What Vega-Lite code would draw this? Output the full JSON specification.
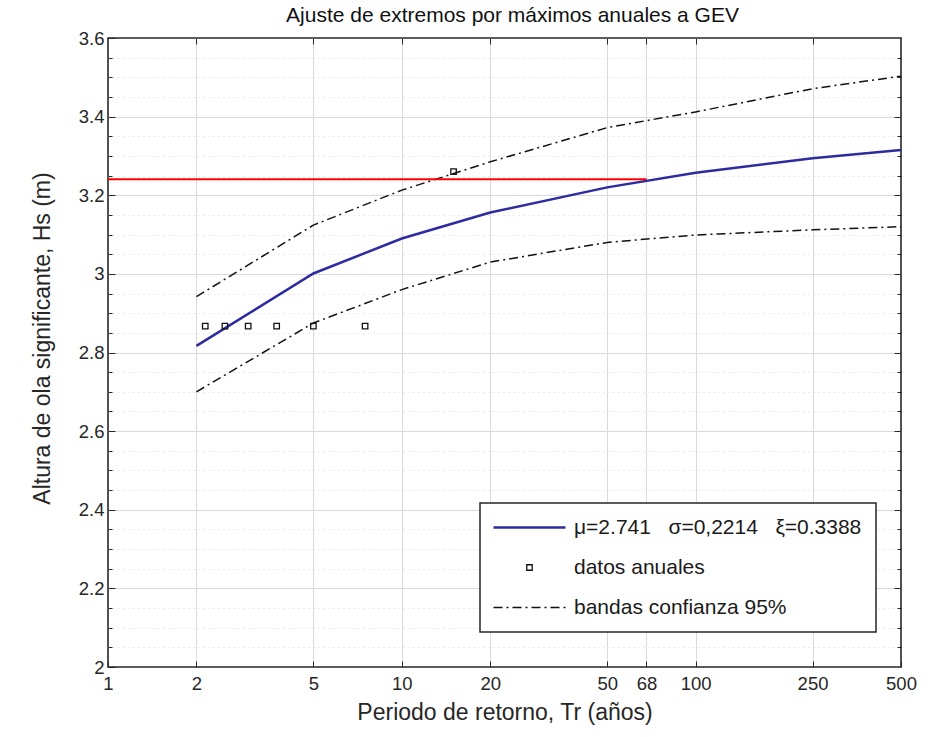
{
  "$schema": "https://vega.github.io/schema/vega-lite/v6.json",
  "width": 793,
  "height": 629,
  "autosize": {"type": "none"},
  "padding": {"left": 108, "top": 38, "right": 27, "bottom": 70},
  "background": "white",
  "title": {"text": "Ajuste de extremos por máximos anuales a GEV", "fontSize": 21, "font": "Liberation Sans", "fontWeight": "normal", "color": "#111111", "offset": 3, "dx": 8, "anchor": "middle"},
  "config": {
    "view": {"stroke": "#262626", "strokeWidth": 1.6},
    "axis": {"labelFont": "Liberation Sans", "titleFont": "Liberation Sans", "labelColor": "#262626", "titleColor": "#262626", "tickColor": "#262626", "domain": false, "labelFlush": false, "labelOverlap": false, "titleFontWeight": "normal", "tickWidth": 1}
  },
  "datasets": {
    "lines": [
      {"T": 2, "Hs": 2.942, "band": "sup", "serie": "bandas confianza 95%"},
      {"T": 5, "Hs": 3.124, "band": "sup", "serie": "bandas confianza 95%"},
      {"T": 10, "Hs": 3.213, "band": "sup", "serie": "bandas confianza 95%"},
      {"T": 20, "Hs": 3.285, "band": "sup", "serie": "bandas confianza 95%"},
      {"T": 50, "Hs": 3.372, "band": "sup", "serie": "bandas confianza 95%"},
      {"T": 100, "Hs": 3.412, "band": "sup", "serie": "bandas confianza 95%"},
      {"T": 250, "Hs": 3.471, "band": "sup", "serie": "bandas confianza 95%"},
      {"T": 500, "Hs": 3.503, "band": "sup", "serie": "bandas confianza 95%"},
      {"T": 2, "Hs": 2.700, "band": "inf", "serie": "bandas confianza 95%"},
      {"T": 5, "Hs": 2.875, "band": "inf", "serie": "bandas confianza 95%"},
      {"T": 10, "Hs": 2.960, "band": "inf", "serie": "bandas confianza 95%"},
      {"T": 20, "Hs": 3.030, "band": "inf", "serie": "bandas confianza 95%"},
      {"T": 50, "Hs": 3.080, "band": "inf", "serie": "bandas confianza 95%"},
      {"T": 100, "Hs": 3.099, "band": "inf", "serie": "bandas confianza 95%"},
      {"T": 250, "Hs": 3.112, "band": "inf", "serie": "bandas confianza 95%"},
      {"T": 500, "Hs": 3.120, "band": "inf", "serie": "bandas confianza 95%"}
    ],
    "gev": [
      {"T": 2, "Hs": 2.817, "serie": "μ=2.741\u00a0\u00a0 σ=0,2214\u00a0\u00a0 ξ=0.3388"},
      {"T": 5, "Hs": 3.001, "serie": "μ=2.741\u00a0\u00a0 σ=0,2214\u00a0\u00a0 ξ=0.3388"},
      {"T": 10, "Hs": 3.090, "serie": "μ=2.741\u00a0\u00a0 σ=0,2214\u00a0\u00a0 ξ=0.3388"},
      {"T": 20, "Hs": 3.156, "serie": "μ=2.741\u00a0\u00a0 σ=0,2214\u00a0\u00a0 ξ=0.3388"},
      {"T": 50, "Hs": 3.220, "serie": "μ=2.741\u00a0\u00a0 σ=0,2214\u00a0\u00a0 ξ=0.3388"},
      {"T": 100, "Hs": 3.257, "serie": "μ=2.741\u00a0\u00a0 σ=0,2214\u00a0\u00a0 ξ=0.3388"},
      {"T": 250, "Hs": 3.294, "serie": "μ=2.741\u00a0\u00a0 σ=0,2214\u00a0\u00a0 ξ=0.3388"},
      {"T": 500, "Hs": 3.315, "serie": "μ=2.741\u00a0\u00a0 σ=0,2214\u00a0\u00a0 ξ=0.3388"}
    ],
    "pts": [
      {"T": 2.143, "Hs": 2.867, "serie": "datos anuales"},
      {"T": 2.5, "Hs": 2.867, "serie": "datos anuales"},
      {"T": 3, "Hs": 2.867, "serie": "datos anuales"},
      {"T": 3.75, "Hs": 2.867, "serie": "datos anuales"},
      {"T": 5, "Hs": 2.867, "serie": "datos anuales"},
      {"T": 7.5, "Hs": 2.867, "serie": "datos anuales"},
      {"T": 15, "Hs": 3.260, "serie": "datos anuales"}
    ],
    "ret": [
      {"T": 1, "Hs": 3.241},
      {"T": 68, "Hs": 3.241}
    ]
  },
  "layer": [
    {
      "data": {"name": "lines"},
      "mark": {"type": "line", "strokeDash": [9, 4, 2, 4], "strokeWidth": 1.5},
      "encoding": {
        "x": {"field": "T", "type": "quantitative", "scale": {"type": "log", "domain": [1, 500], "nice": false},
              "axis": {"orient": "bottom", "values": [1, 2, 5, 10, 20, 50, 68, 100, 250, 500], "format": "d", "grid": false, "tickSize": -6, "labelPadding": 13, "labelFontSize": 18.5, "title": "Periodo de retorno, Tr (años)", "titleFontSize": 23, "titleY": 45, "titleBaseline": "middle"}},
        "y": {"field": "Hs", "type": "quantitative", "scale": {"domain": [2, 3.6], "nice": false, "zero": false},
              "axis": {"orient": "left", "values": [2, 2.2, 2.4, 2.6, 2.8, 3, 3.2, 3.4, 3.6], "format": "~g", "grid": false, "tickSize": -7, "labelPadding": 11, "labelFontSize": 18.5, "title": "Altura de ola significante, Hs (m)", "titleFontSize": 23, "titleX": -66, "titleY": 300, "titleBaseline": "middle", "titleAlign": "center"}},
        "detail": {"field": "band"},
        "color": {"field": "serie", "type": "nominal",
                  "scale": {"domain": ["μ=2.741\u00a0\u00a0 σ=0,2214\u00a0\u00a0 ξ=0.3388", "datos anuales", "bandas confianza 95%"], "range": ["#2c2ca0", "#111111", "#111111"]},
                  "legend": {"orient": "none", "legendX": 372, "legendY": 465, "title": null, "fillColor": "white", "strokeColor": "#262626", "padding": 14, "labelFontSize": 21, "labelFont": "Liberation Sans", "labelColor": "#1a1a1a", "symbolType": "stroke", "symbolSize": 5184, "symbolStrokeWidth": 2.5, "rowPadding": 18, "symbolOffset": 25, "labelOffset": 34, "labelLimit": 500,
                    "encode": {
                      "symbols": {"update": {
                        "shape": {"signal": "datum.value === 'datos anuales' ? 'square' : 'stroke'"},
                        "size": {"signal": "datum.value === 'datos anuales' ? 30 : 5184"},
                        "strokeDash": {"signal": "datum.value === 'bandas confianza 95%' ? [9,4,2,4] : [1,0]"},
                        "strokeWidth": {"signal": "datum.value === 'datos anuales' ? 1.3 : (datum.value === 'bandas confianza 95%' ? 1.5 : 2.5)"},
                        "fill": {"value": "transparent"}
                      }},
                      "legend": {"update": {"strokeWidth": {"value": 1.5}}}
                    }}}
      }
    },
    {
      "data": {"name": "gev"},
      "mark": {"type": "line", "strokeWidth": 2.5},
      "encoding": {
        "x": {"field": "T", "type": "quantitative",
              "axis": {"orient": "top", "values": [2, 5, 10, 20, 50, 68, 100, 250], "grid": true, "gridColor": "#dadada", "gridWidth": 1, "tickSize": -6, "labels": false, "title": null}},
        "y": {"field": "Hs", "type": "quantitative",
              "axis": {"orient": "right", "values": [2.2, 2.4, 2.6, 2.8, 3, 3.2, 3.4], "grid": true, "gridColor": "#dadada", "gridWidth": 1, "tickSize": -7, "labels": false, "title": null}},
        "color": {"field": "serie", "type": "nominal"}
      }
    },
    {
      "data": {"name": "ret"},
      "mark": {"type": "line", "color": "#ff0000", "strokeWidth": 2},
      "encoding": {
        "x": {"field": "T", "type": "quantitative", "axis": null},
        "y": {"field": "Hs", "type": "quantitative",
              "axis": {"orient": "left", "values": [2.05, 2.1, 2.15, 2.25, 2.3, 2.35, 2.45, 2.5, 2.55, 2.65, 2.7, 2.75, 2.85, 2.9, 2.95, 3.05, 3.1, 3.15, 3.25, 3.3, 3.35, 3.45, 3.5, 3.55], "grid": true, "gridColor": "#d6d6d6", "gridDash": [1, 4], "gridWidth": 1, "tickSize": -4, "labels": false, "title": null}}
      }
    },
    {
      "data": {"name": "pts"},
      "mark": {"type": "point", "shape": "square", "filled": false, "size": 30, "strokeWidth": 1.3, "opacity": 1},
      "encoding": {
        "x": {"field": "T", "type": "quantitative", "axis": null},
        "y": {"field": "Hs", "type": "quantitative",
              "axis": {"orient": "right", "values": [2.05, 2.1, 2.15, 2.25, 2.3, 2.35, 2.45, 2.5, 2.55, 2.65, 2.7, 2.75, 2.85, 2.9, 2.95, 3.05, 3.1, 3.15, 3.25, 3.3, 3.35, 3.45, 3.5, 3.55], "grid": false, "tickSize": -4, "labels": false, "title": null}},
        "color": {"field": "serie", "type": "nominal"}
      }
    }
  ],
  "resolve": {"axis": {"x": "independent", "y": "independent"}}
}
